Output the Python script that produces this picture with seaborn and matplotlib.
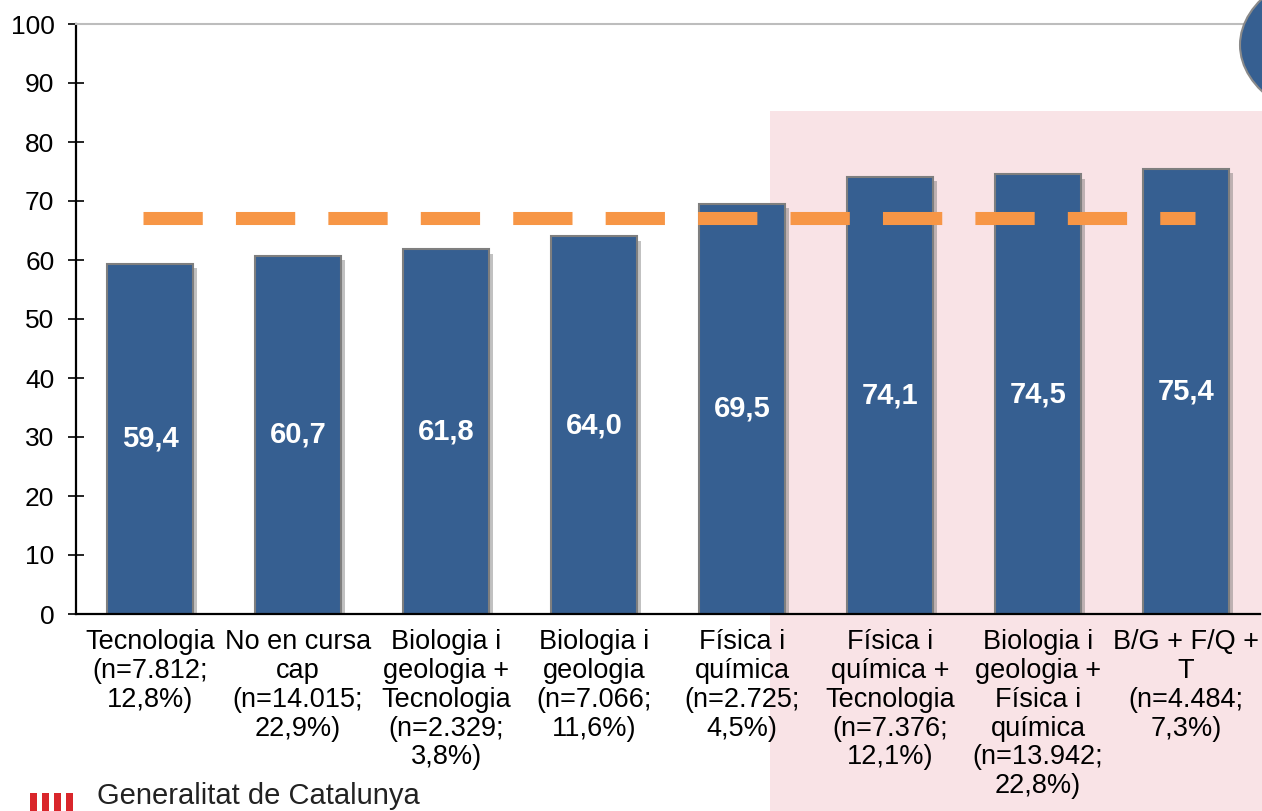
import matplotlib
matplotlib.use("Agg")
import matplotlib.pyplot as plt
import matplotlib.patheffects as pe
from matplotlib.patches import Circle, Rectangle
from matplotlib.ticker import FixedLocator
import seaborn as sns
import pandas as pd

# Data
categories = [
    "Tecnologia\n(n=7.812;\n12,8%)",
    "No en cursa\ncap\n(n=14.015;\n22,9%)",
    "Biologia i\ngeologia +\nTecnologia\n(n=2.329;\n3,8%)",
    "Biologia i\ngeologia\n(n=7.066;\n11,6%)",
    "Física i\nquímica\n(n=2.725;\n4,5%)",
    "Física i\nquímica +\nTecnologia\n(n=7.376;\n12,1%)",
    "Biologia i\ngeologia +\nFísica i\nquímica\n(n=13.942;\n22,8%)",
    "B/G + F/Q +\nT\n(n=4.484;\n7,3%)",
]
values = [59.4, 60.7, 61.8, 64.0, 69.5, 74.1, 74.5, 75.4]
value_labels = ["59,4", "60,7", "61,8", "64,0", "69,5", "74,1", "74,5", "75,4"]
mean_value = 67.2
y_ticks = [0, 10, 20, 30, 40, 50, 60, 70, 80, 90, 100]

BAR_COLOR = "#365F91"
LINE_COLOR = "#F79646"

sns.set_style("white")
plt.rcParams["font.family"] = ["Liberation Sans", "DejaVu Sans"]
plt.rcParams["text.color"] = "black"
plt.rcParams["xtick.color"] = "black"
plt.rcParams["ytick.color"] = "black"

df = pd.DataFrame({"cat": categories, "val": values})

fig = plt.figure(figsize=(12.62, 8.11), dpi=100)
fig.patch.set_facecolor("white")

# soft background decoration (pink watermark on the right)
fig.patches.append(Rectangle((770 / 1262, 0), 492 / 1262, 700 / 811,
                             transform=fig.transFigure, facecolor="#f9e3e6",
                             edgecolor="none", zorder=-1))
fig.patches.append(Circle((1369 / 1262, 766 / 811), 129 / 1262,
                          transform=fig.transFigure, facecolor=BAR_COLOR,
                          edgecolor="#8a8a8a", linewidth=1.5, zorder=5))

ax = fig.add_axes([76 / 1262, 1 - 614 / 811, 1184 / 1262, 590 / 811])
ax.set_facecolor("none")

sns.barplot(data=df, x="cat", y="val", color=BAR_COLOR, saturation=1,
            width=0.58, edgecolor="#7f7f7f", linewidth=1.5, ax=ax, zorder=2)
for bar in ax.patches:
    bar.set_path_effects([pe.SimplePatchShadow(offset=(3, -3), shadow_rgbFace="#666666", alpha=0.4),
                          pe.Normal()])

for i, (v, lab) in enumerate(zip(values, value_labels)):
    ax.text(i, v / 2, lab, ha="center", va="center", color="white",
            fontsize=21, fontweight="bold", zorder=4)

ax.hlines(mean_value, -0.05, 7.06, colors=LINE_COLOR, linewidth=9.4,
          linestyles=(0, (4.54, 2.54)), zorder=3)

ax.set_xlim(-0.5, 7.5)
ax.set_ylim(0, 100)
ax.set_yticks(y_ticks)
ax.set_xlabel("")
ax.set_ylabel("")

ax.xaxis.set_minor_locator(FixedLocator([i - 0.5 for i in range(len(categories) + 1)]))
ax.tick_params(axis="x", which="major", length=0, pad=11, labelsize=19.5)
ax.tick_params(axis="x", which="minor", direction="inout", length=12, width=1.2, color="black")
ax.tick_params(axis="y", which="major", direction="inout", length=11, width=1.2,
               color="black", pad=10, labelsize=19, left=True)
ax.set_xticks(range(len(categories)))
ax.set_xticklabels(categories, ha="center", linespacing=1.14)

for side in ["left", "bottom"]:
    ax.spines[side].set_color("black")
    ax.spines[side].set_linewidth(1.6)
ax.spines["top"].set_color("#bdbdbd")
ax.spines["top"].set_linewidth(1.5)
ax.spines["right"].set_visible(False)

# footer logo
for k in range(4):
    fig.patches.append(Rectangle(((30 + k * 12) / 1262, 0), 7 / 1262, 18 / 811,
                                 transform=fig.transFigure, facecolor="#d9262b",
                                 edgecolor="none", zorder=1))
fig.text(97 / 1262, 1 / 811, "Generalitat de Catalunya", fontsize=21,
         color="#222222", ha="left", va="bottom")

fig.savefig("out.png", dpi=100)
